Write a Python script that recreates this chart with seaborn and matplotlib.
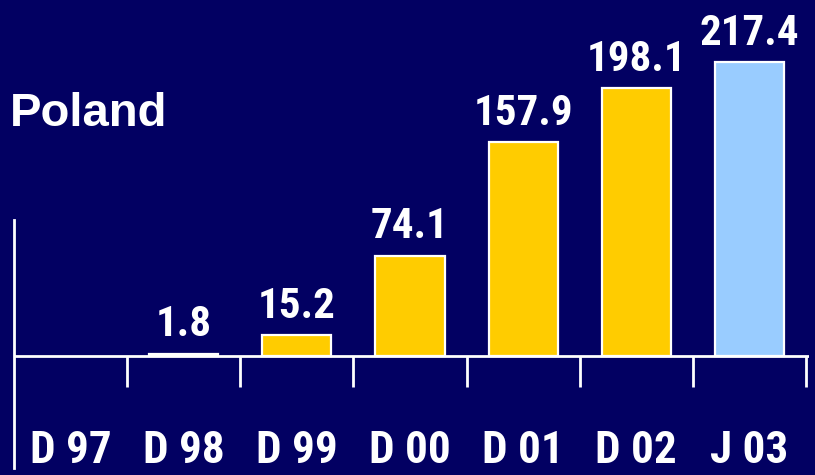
import numpy as np
import pandas as pd
import matplotlib
matplotlib.use("Agg")
import matplotlib.pyplot as plt
from matplotlib import font_manager
import seaborn as sns

categories = ["D 97", "D 98", "D 99", "D 00", "D 01", "D 02", "J 03"]
values = [np.nan, 1.8, 15.2, 74.1, 157.9, 198.1, 217.4]
bar_colors = ["#FFCC00", "#FFCC00", "#FFCC00", "#FFCC00", "#FFCC00", "#FFCC00", "#99CCFF"]
title = "Poland"

BG = "#020062"


def pick_narrow_font():
    """Return a condensed/narrow bold-capable family if one is installed."""
    names = sorted({f.name for f in font_manager.fontManager.ttflist})
    for wanted in ["Liberation Sans Narrow", "Arial Narrow", "DejaVu Sans Condensed",
                   "Roboto Condensed", "Open Sans Condensed"]:
        if wanted in names:
            return wanted, "normal"
    for f in font_manager.fontManager.ttflist:
        if "DejaVu Sans" in f.name and f.stretch in ("condensed", 300, "semi-condensed"):
            return "DejaVu Sans", "condensed"
    return "DejaVu Sans", "normal"


narrow_family, narrow_stretch = pick_narrow_font()
NARROW = [narrow_family, "DejaVu Sans"]

sns.set_theme(style="white")
plt.rcParams["font.family"] = ["Liberation Sans", "DejaVu Sans"]

df = pd.DataFrame({"period": categories, "value": values})

fig = plt.figure(figsize=(8.15, 4.75), dpi=100, facecolor=BG)
ax = fig.add_axes([14 / 815, (475 - 468) / 475, 795 / 815, 468 / 475])
ax.set_facecolor(BG)

sns.barplot(data=df, x="period", y="value", order=categories, hue="period",
            palette=dict(zip(categories, bar_colors)), legend=False, saturation=1,
            width=0.61, edgecolor="white", linewidth=1.6, ax=ax)

# vertical scale: baseline 356 px, axes spans 468 px
px_per_unit = 294 / 217.4
ax.set_ylim(-(468 - 356) / px_per_unit, 356 / px_per_unit)
ax.set_xlim(-0.5, len(categories) - 0.5 + 3 / 113.6)

for s in ["top", "right", "bottom"]:
    ax.spines[s].set_visible(False)
ax.spines["left"].set_color("white")
ax.spines["left"].set_linewidth(2)
ax.spines["left"].set_bounds(ax.get_ylim()[0], (356 - 220) / px_per_unit)

# baseline and category separators
ax.axhline(0, color="white", lw=2, zorder=3)
tick_depth = (387 - 356) / px_per_unit
for i in range(len(categories)):
    ax.vlines(i + 0.5, -tick_depth, 0, color="white", lw=2, zorder=3)

ax.set_yticks([])
ax.set_xlabel("")
ax.set_ylabel("")
ax.set_xticks(range(len(categories)))
ax.set_xticklabels(categories, fontsize=32.5, fontweight="bold", color="white",
                   family=NARROW, fontstretch=narrow_stretch)
ax.tick_params(axis="x", length=0, pad=-27.5)

for i, v in enumerate(values):
    if np.isnan(v):
        continue
    ax.annotate(f"{v:.1f}", (i, v), xytext=(0, 6), textcoords="offset points",
                ha="center", va="bottom", fontsize=31, fontweight="bold",
                color="white", family=NARROW, fontstretch=narrow_stretch)

fig.text(10 / 815, 1 - 126 / 475, title, fontsize=34, fontweight="bold",
         color="white", ha="left", va="baseline")

fig.savefig("out.png", dpi=100, facecolor=BG)
